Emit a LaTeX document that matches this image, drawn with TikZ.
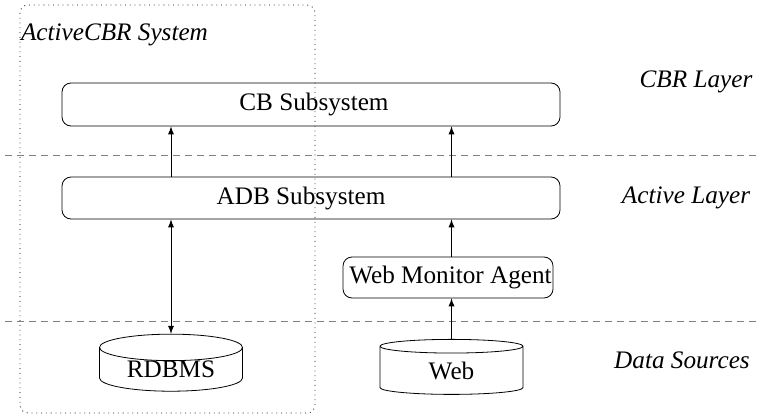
\documentclass[tikz,border=0pt]{standalone}
\usepackage{fontspec}
\setmainfont{Liberation Serif}
\usetikzlibrary{shapes,arrows}

\begin{document}
\begin{tikzpicture}[x=0.5pt,y=-0.5pt,font=\fontsize{12.6}{15}\selectfont,
     sub/.style={draw,rounded corners=4.5pt,inner sep=0pt},
     store/.style={draw,cylinder,shape border rotate=90,aspect=0.3,inner sep=0pt,
                   minimum width=71.5pt,minimum height=27.5pt},
     layer/.style={gray,dash pattern=on 3.5pt off 2.5pt}]
     \useasboundingbox (0,0) rectangle (758,417);
     % system border
     \draw [dotted,rounded corners=4pt] (20,5) rectangle (315,413);
     \node [right] (sysname) at (14,35) {\itshape ActiveCBR System};
     % layer separators
     \draw [layer] (5,155) -- (758,155);
     \draw [layer] (5,321) -- (758,321);
     \node (cbrlayer) at (696,82) {\itshape CBR Layer};
     \node (actlayer) at (686,198) {\itshape Active Layer};
     \node (datalayer) at (682,360) {\itshape Data Sources};
     % subsystems
     \node [sub,minimum width=249pt,minimum height=21.5pt] (cb) at (311,104.5) {};
     \node (cbtext) at (314,104.5) {CB Subsystem};
     \node [sub,minimum width=249pt,minimum height=21pt] (adb) at (311,198) {};
     \node (adbtext) at (301,198) {ADB Subsystem};
     \node [sub,minimum width=105pt,minimum height=20.5pt] (wma) at (448,277.5) {};
     \node (wmatext) at (450.5,277.5) {Web Monitor Agent};
     % data sources
     \node [store] (rdb) at (171,369.5) {RDBMS};
     \node [store] (web) at (451.5,370.5) {Web};
     % connectors
     \draw [-latex] (rdb.north |- adb.north) -- (rdb.north |- cb.south);
     \draw [latex-latex] (rdb.north |- adb.south) -- (rdb.north);
     \draw [-latex] (web.north) -- (web.north |- wma.south);
     \draw [-latex] (web.north |- wma.north) -- (web.north |- adb.south);
     \draw [-latex] (web.north |- adb.north) -- (web.north |- cb.south);
\end{tikzpicture}
\end{document}
